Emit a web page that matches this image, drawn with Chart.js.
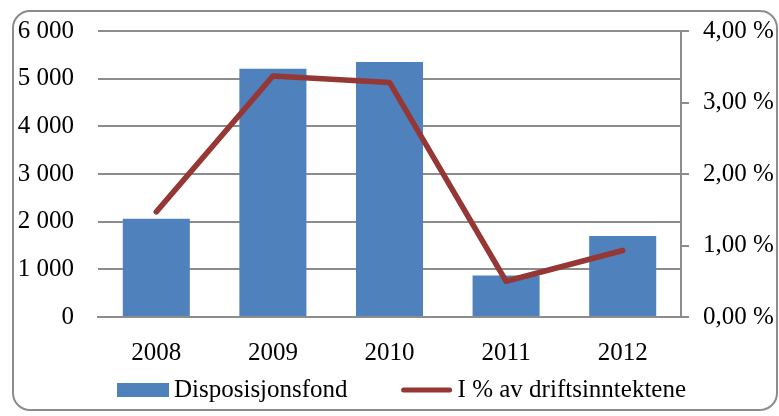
<!DOCTYPE html>
<html>
<head>
<meta charset="utf-8">
<script src="https://cdn.jsdelivr.net/npm/chart.js@4.4.0/dist/chart.umd.min.js"></script>
<style>
  html, body { margin: 0; padding: 0; background: #fff; }
  #wrap { position: relative; width: 779px; height: 416px; }
  #frame { position: absolute; left: 12px; top: 10px; width: 762px; height: 397px;
           border: 2px solid #8c8c8c; border-radius: 18px; }
  #myChart { position: absolute; left: 0; top: 0; }
</style>
</head>
<body>
<div id="wrap">
  <div id="frame"></div>
  <canvas id="myChart" width="779" height="416"></canvas>
</div>
<script>
// data
const years = ['2008', '2009', '2010', '2011', '2012'];
const fund = [2060, 5210, 5350, 870, 1700];
const pctOfIncome = [1.47, 3.37, 3.28, 0.50, 0.93];
const fundLabel = 'Disposisjonsfond';
const pctLabel = 'I % av driftsinntektene';

const gridGrey = '#8c8c8c';
const barBlue = '#4F81BD';
const lineRed = '#953735';
const serif = { family: "'Liberation Serif', 'Times New Roman', serif", size: 25 };

function spaced(n) {
  return String(n).replace(/\B(?=(\d{3})+(?!\d))/g, ' ');
}

// legend drawn in one row under the axis, like the Excel original
const rowLegend = {
  id: 'rowLegend',
  afterDraw: function(chart) {
    var c = chart.ctx;
    c.save();
    c.font = serif.size + 'px ' + serif.family;
    c.textBaseline = 'middle';
    c.fillStyle = '#000';
    var boxW = 52, gapText = 5, gapItem = 53;
    var w1 = c.measureText(fundLabel).width;
    var w2 = c.measureText(pctLabel).width;
    var total = boxW + gapText + w1 + gapItem + boxW + gapText + w2;
    var x = chart.width / 2 + 12 - total / 2;
    var y = 390;
    c.fillStyle = barBlue;
    c.fillRect(x, y - 7, boxW, 14);
    c.fillStyle = '#000';
    c.fillText(fundLabel, x + boxW + gapText, y);
    x += boxW + gapText + w1 + gapItem;
    c.strokeStyle = lineRed;
    c.lineWidth = 5;
    c.lineCap = 'round';
    c.beginPath();
    c.moveTo(x + 3, y);
    c.lineTo(x + boxW - 3, y);
    c.stroke();
    c.fillText(pctLabel, x + boxW + gapText, y);
    c.restore();
  }
};

// fixed axis widths, no extra label padding above/below the plot
function fixSide(scale) {
  scale.width = 98;
  scale.paddingTop = 0;
  scale.paddingBottom = 0;
}

var ctx = document.getElementById('myChart').getContext('2d');

var myChart = new Chart(ctx, {
  data: {
    labels: years,
    datasets: [{
      type: 'line',
      label: pctLabel,
      data: pctOfIncome,
      yAxisID: 'pct',
      borderColor: lineRed,
      backgroundColor: lineRed,
      borderWidth: 5.5,
      pointRadius: 0,
      borderCapStyle: 'round',
      borderJoinStyle: 'round',
      order: 0
    }, {
      type: 'bar',
      label: fundLabel,
      data: fund,
      yAxisID: 'y',
      backgroundColor: barBlue,
      categoryPercentage: 1,
      barPercentage: 0.575,
      order: 1
    }]
  },
  options: {
    responsive: false,
    animation: false,
    layout: { padding: { top: 31, left: 0, right: 0, bottom: 49 } },
    scales: {
      x: {
        grid: { display: false },
        border: { display: true, color: gridGrey, width: 2 },
        ticks: { color: '#000', font: serif, padding: 13 },
        afterFit: function(scale) { scale.height = 50; }
      },
      y: {
        position: 'left',
        min: 0,
        max: 6000,
        ticks: {
          stepSize: 1000,
          color: '#000',
          font: serif,
          padding: 24,
          callback: function(v) { return spaced(v); }
        },
        grid: { color: gridGrey, lineWidth: 2, drawTicks: false },
        border: { display: false },
        afterFit: fixSide
      },
      pct: {
        position: 'right',
        min: 0,
        max: 4,
        ticks: {
          stepSize: 1,
          color: '#000',
          font: serif,
          padding: 14,
          callback: function(v) { return v.toFixed(2).replace('.', ',') + ' %'; }
        },
        grid: { drawOnChartArea: false, color: gridGrey, lineWidth: 2, tickLength: 8 },
        border: { display: true, color: gridGrey, width: 2 },
        afterFit: fixSide
      }
    },
    plugins: {
      tooltip: { enabled: false },
      legend: { display: false }
    }
  },
  plugins: [rowLegend]
});
</script>
</body>
</html>
